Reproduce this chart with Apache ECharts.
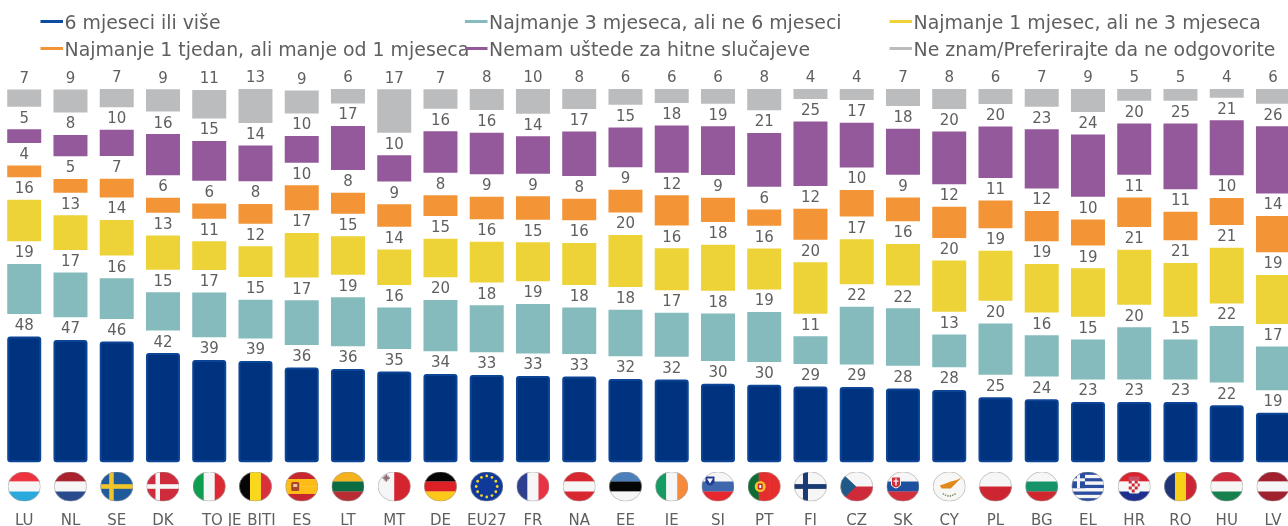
<!DOCTYPE html>
<html>
<head>
<meta charset="utf-8">
<style>html,body{margin:0;padding:0;background:#fff}#c{width:1288px;height:526px}</style>
<script src="https://cdn.jsdelivr.net/npm/echarts@6/dist/echarts.min.js"></script>
</head>
<body>
<div id="c"></div>
<script>
const categories = ['LU','NL','SE','DK','TO JE','BITI','ES','LT','MT','DE','EU27','FR','NA','EE','IE','SI','PT','FI','CZ','SK','CY','PL','BG','EL','HR','RO','HU','LV'];
const sixPlus  = [47.8,46.5,45.9,41.5,38.9,38.5,36,35.5,34.5,33.6,33.2,32.8,32.6,31.7,31.5,29.9,29.5,28.8,28.6,28.1,27.5,24.7,24,22.9,22.9,22.9,21.7,18.8];
const threeSix = [19,17,15.5,14.5,17,14.7,17,18.6,15.7,19.5,17.9,18.8,17.6,17.7,16.7,18.1,19,10.5,21.9,21.9,12.5,19.5,15.7,15.2,19.8,15.2,21.5,16.6];
const oneThree = [15.8,13.2,13.5,13.05,10.9,11.7,17,14.6,13.5,14.7,15.5,14.8,16,19.8,16,17.5,15.6,19.5,17.1,15.8,19.5,19,18.5,18.5,20.9,20.5,21.2,18.6];
const weekMonth= [4.4,5.2,7.1,5.7,5.8,7.5,9.5,8,8.6,7.9,8.5,8.9,8.2,8.6,11.5,9.3,6.2,11.8,10.1,9.1,11.8,10.5,11.5,9.9,11.3,10.8,10.3,13.8];
const noSavings= [5.2,8.1,10,15.6,15.1,13.6,10.1,16.7,10,15.7,15.8,14.2,16.9,15.1,17.9,18.5,20.5,24.5,17,17.5,20,19.5,22.5,23.7,19.5,25,20.9,25.5];
const dontKnow = [6.5,8.7,7,8.5,10.8,13.2,8.7,5.7,16.5,7.4,8,9.5,7.7,6,5.8,6.1,8.1,4.1,4.2,6.6,7.9,5.7,7.1,9,4.9,4.8,3.6,5.7];
const seriesNames = ['6 mjeseci ili više','Najmanje 3 mjeseca, ali ne 6 mjeseci','Najmanje 1 mjesec, ali ne 3 mjeseca','Najmanje 1 tjedan, ali manje od 1 mjeseca','Nemam uštede za hitne slučajeve','Ne znam/Preferirajte da ne odgovorite'];
const seriesValues = [sixPlus,threeSix,oneThree,weekMonth,noSavings,dontKnow];
const fills = ['#00337f','#85bbbc','#edd338','#f39536','#93599a','#bbbcbe'];
const legendColors = ['#0d4ca0','#85bbbc','#edd338','#f39536','#93599a','#bbbcbe'];
const legendSlots = [[40.5,15],[465,15],[889.5,15],[40.5,42],[465,42],[889.5,42]];
const gapUnits = 8.6;
const textColor = '#5f5f5f';
const font = 'DejaVu Sans';

// Flags: stripes are [direction, colours...]; extras are small svg fragments.
const W='#f6f6f6';
const star12 = Array.from({length:12},(_, i)=>{const a=i*Math.PI/6;return `<circle cx="${16.5+10.5*Math.cos(a)}" cy="${15+10.5*Math.sin(a)}" r="1.4" fill="#f5d327"/>`}).join('');
const flags = {
 'LU':['h','#ee3340',W,'#2aa9dd'],
 'NL':['h','#a8232e',W,'#2a4a8e'],
 'SE':['h','#1f5b9a',null,'<rect x="9" width="4.5" height="30" fill="#f0c52a"/><rect y="12.7" width="33" height="4.6" fill="#f0c52a"/>'],
 'DK':['h','#ce2b3c',null,'<rect x="9" width="4.5" height="30" fill="#f6f6f6"/><rect y="12.7" width="33" height="4.6" fill="#f6f6f6"/>'],
 'TO JE':['v','#0f9d4f',W,'#dc2a35'],
 'BITI':['v','#050505','#f9d71c','#d9303a'],
 'ES':['h','#c72630','#fdbc16','#fdbc16','#c72630',null,'<rect x="6" y="10.5" width="8" height="9" rx="1.5" fill="#a8452a"/><rect x="8" y="12.5" width="4" height="3" fill="#e9c9a0"/>'],
 'LT':['h','#f4b21f','#0b6b43','#b72d33'],
 'MT':['v',W,'#d3242f',null,'<rect x="6" y="4" width="5" height="5" fill="#b09aa0"/><rect x="7.8" y="2.8" width="1.4" height="7.4" fill="#8a6a70"/><rect x="4.8" y="5.8" width="7.4" height="1.4" fill="#8a6a70"/>'],
 'DE':['h','#050505','#dd1f26','#fcc81a'],
 'EU27':['h','#0f3a9c',null,star12],
 'FR':['v','#2f3f8f',W,'#e83344'],
 'NA':['h','#d8272f',W,'#d8272f'],
 'EE':['h','#4b80bb','#050505',W],
 'IE':['v','#169b62',W,'#f58a3c'],
 'SI':['h',W,'#3f67ae','#e6282e',null,'<path d="M4 5h9v6q-4.5 6-9 0z" fill="#1f3a8f"/><path d="M5.5 7h6l-3 5z" fill="#f6f6f6"/>'],
 'PT':['v','#0e6b33','#e62d2e','#e62d2e',null,'<circle cx="12.5" cy="15" r="5.5" fill="#f0c42a"/><rect x="10" y="12" width="5" height="6" rx="1" fill="#c8282e"/><rect x="11.5" y="13.5" width="2" height="3" fill="#f6f6f6"/>'],
 'FI':['h',W,null,'<rect x="9" width="5" height="30" fill="#1a3a73"/><rect y="12.6" width="33" height="4.8" fill="#1a3a73"/>'],
 'CZ':['h',W,'#ce2a3a',null,'<path d="M0 0L16 15L0 30z" fill="#1e5a85"/>'],
 'SK':['h',W,'#1e50a0','#d22f3a',null,'<path d="M5 5.5h9v8q-4.5 6-9 0z" fill="#d22f3a" stroke="#f6f6f6" stroke-width="1"/><rect x="8.8" y="7" width="1.4" height="7" fill="#f6f6f6"/><rect x="7" y="9" width="5" height="1.2" fill="#f6f6f6"/>'],
 'CY':['h','#f7f7f5',null,'<path d="M7 14L13 12L18 10L24 8.5L29 6L24 11L21 14L18 17L13 17L9 17z" fill="#e08a1e"/><path d="M10 22Q16.5 27 23 22" fill="none" stroke="#7d8a66" stroke-width="1.4" stroke-dasharray="1.5 1"/>'],
 'PL':['h',W,'#ce2630'],
 'BG':['h',W,'#17936a','#d0272f'],
 'EL':['h','#2b4da0',W,'#2b4da0',W,'#2b4da0',W,'#2b4da0',W,'#2b4da0',null,'<rect width="13.5" height="16.7" fill="#2b4da0"/><rect x="5.5" width="3" height="16.7" fill="#f6f6f6"/><rect y="6.8" width="13.5" height="3" fill="#f6f6f6"/>'],
 'HR':['h','#d9232e',W,'#1e2f8f',null,'<rect x="11" y="9" width="11" height="13" rx="2" fill="#f6f6f6"/><path d="M11 9h3v3h-3zM17 9h3v3h-3zM14 12h3v3h-3zM20 12h2v3h-2zM11 15h3v3h-3zM17 15h3v3h-3zM14 18h3v3h-3z" fill="#cf2a36"/><rect x="11" y="5" width="11" height="4" fill="#c8506a"/>'],
 'RO':['v','#1f3578','#f7d117','#cc2534'],
 'HU':['h','#cd2a3e',W,'#16804f'],
 'LV':['h','#a0202e',W,'#a0202e']
};

function flagSvg(def){
  const dir = def[0];
  const cut = def.indexOf(null);
  const cols = def.slice(1, cut < 0 ? def.length : cut);
  const extra = cut < 0 ? '' : def[cut+1];
  const n = cols.length;
  const bands = cols.map((c,i)=> dir==='h'
    ? `<rect x="0" y="${(30*i/n).toFixed(2)}" width="33" height="${(30/n+0.2).toFixed(2)}" fill="${c}"/>`
    : `<rect x="${(33*i/n).toFixed(2)}" y="0" width="${(33/n+0.2).toFixed(2)}" height="30" fill="${c}"/>`).join('');
  const svg = `<svg xmlns="http://www.w3.org/2000/svg" width="132" height="120" viewBox="0 0 33 30"><defs><clipPath id="k"><ellipse cx="16.5" cy="15" rx="16.3" ry="14.8"/></clipPath></defs><g clip-path="url(#k)">${bands}${extra}</g><ellipse cx="16.5" cy="15" rx="16.2" ry="14.7" fill="none" stroke="#a3a3a3" stroke-width="0.6"/></svg>`;
  return 'image://data:image/svg+xml;charset=utf-8,' + encodeURIComponent(svg);
}

const barSeries = [];
seriesValues.forEach((vals,i)=>{
  if(i>0) barSeries.push({
    name:'gap'+i, type:'bar', stack:'t', barWidth:34, silent:true,
    data:categories.map(()=>gapUnits), itemStyle:{color:'rgba(0,0,0,0)'}, label:{show:false}
  });
  barSeries.push({
    name:seriesNames[i], type:'bar', stack:'t', barWidth:34,
    data:vals,
    itemStyle: i===0
      ? {color:fills[0], borderColor:'#0c4596', borderWidth:2, borderRadius:2}
      : {color:fills[i]},
    label:{show:true, position:'top', distance:3, color:textColor, fontFamily:font, fontSize:15,
      formatter:p=>String(Math.round(p.value))}
  });
});

const flagSeries = {
  name:'flags', type:'scatter', xAxisIndex:1, yAxisIndex:1, silent:true,
  data:categories.map(c=>({value:[c,0.5], symbol:flagSvg(flags[c])})),
  symbolSize:[33,30], itemStyle:{opacity:1}, label:{show:false}
};

const legendPath = 'path://M0 0H22.5V3H0Z M24 9L24 9';
const option = {
  animation:false,
  backgroundColor:'#fff',
  legend: seriesNames.map((n,i)=>({
    data:[n], left:legendSlots[i][0], top:legendSlots[i][1], padding:0,
    icon:legendPath, itemWidth:24, itemHeight:9, orient:'horizontal',
    itemStyle:{color:legendColors[i], borderWidth:0},
    textStyle:{color:textColor, fontFamily:font, fontSize:18.9, padding:[0,0,0,-5]}
  })),
  grid:[
    {left:1.1, top:89, width:1295, height:373.3, containLabel:false, outerBoundsMode:'none'},
    {left:1.1, top:471, width:1295, height:31, containLabel:false, outerBoundsMode:'none'}
  ],
  xAxis:[
    {type:'category', gridIndex:0, data:categories,
      axisLine:{show:false}, axisTick:{show:false}, splitLine:{show:false},
      axisLabel:{interval:0, margin:51, hideOverlap:false, color:textColor, fontFamily:font, fontSize:15,
        formatter:v=> v==='TO JE' ? '{a|'+v+'}' : v==='BITI' ? '{b|'+v+'}' : v==='EU27' ? '{c|'+v+'}' : v,
        rich:{
          a:{padding:[0,0,0,25], color:textColor, fontFamily:font, fontSize:15},
          b:{padding:[0,0,0,12], color:textColor, fontFamily:font, fontSize:15},
          c:{padding:[0,0,5,0], color:textColor, fontFamily:font, fontSize:15}
        }}},
    {type:'category', gridIndex:1, data:categories, show:false}
  ],
  yAxis:[
    {type:'value', gridIndex:0, min:0, max:141.9, show:false, splitLine:{show:false}},
    {type:'value', gridIndex:1, min:0, max:1, show:false, splitLine:{show:false}}
  ],
  series:[...barSeries, flagSeries]
};
const chart = echarts.init(document.getElementById('c'), null, {renderer:'canvas'});
chart.setOption(option);
</script>
</body>
</html>
